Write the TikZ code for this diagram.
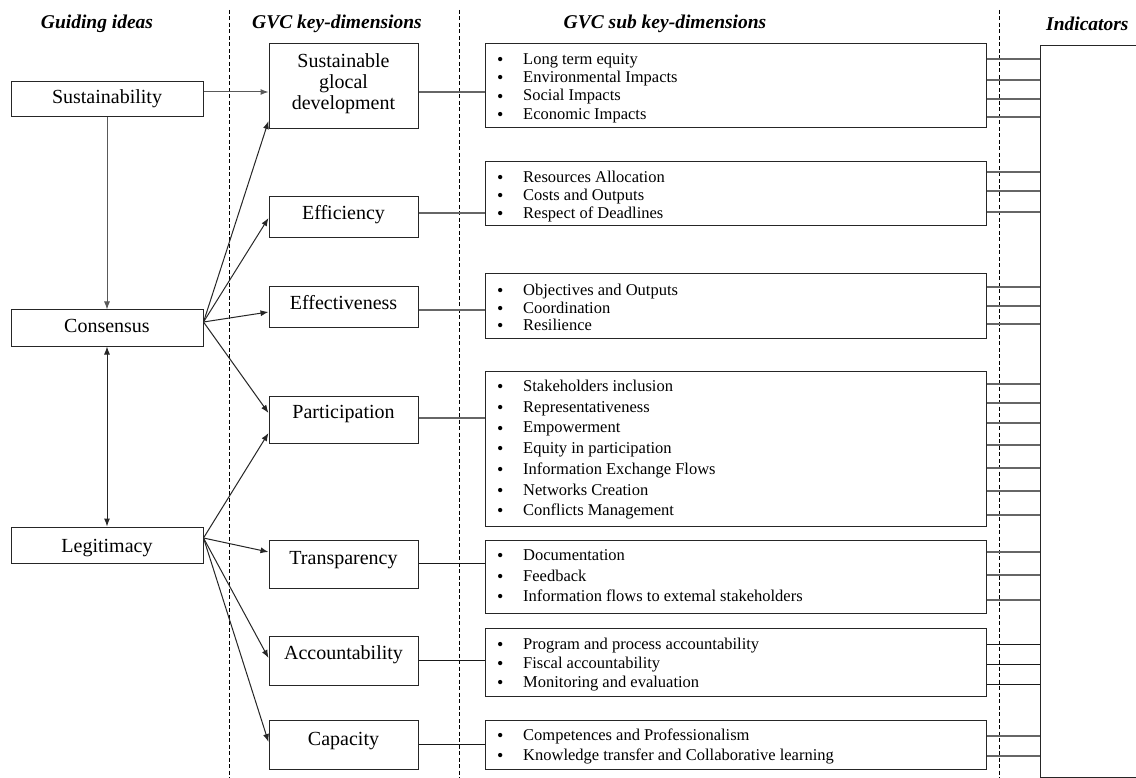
\documentclass[tikz,border=0pt]{standalone}
\usepackage{fontspec}
\setmainfont{Liberation Serif}
\usetikzlibrary{arrows.meta,calc}
\newcommand\gvcbul{\makebox[26pt][l]{\smash{\raisebox{-1.2pt}{\fontsize{18}{16}\selectfont•}}}}
\begin{document}
\begin{tikzpicture}[x=1pt,y=-1pt,
  box/.style={draw=black!85,line width=1pt,fill=white,inner sep=0pt},
  lab/.style={font=\fontsize{20}{21}\selectfont,inner sep=0pt,align=center,text height=14pt,text depth=4pt},
  hdr/.style={font=\fontsize{19.5}{21}\selectfont\bfseries\itshape,inner sep=0pt},
  item/.style={font=\fontsize{16.5}{16}\selectfont,inner sep=0pt,anchor=west,text height=11pt,text depth=3pt},
  conn/.style={draw=black!60,line width=1.3pt},
  connk/.style={draw=black!90,line width=1pt},
  arr/.style={draw=black!85,line width=1pt,-{Latex[length=8pt,width=6pt]}},
  sepline/.style={draw=black,line width=0.9pt,dash pattern=on 4pt off 2.5pt}]
\useasboundingbox[fill=white] (0,0) rectangle (1136,778);

% separators
\draw[sepline] (229,10) -- (229,778);
\draw[sepline] (459,10) -- (459,778);
\draw[sepline] (999,10) -- (999,778);

% headers
\node[hdr] (h1) at (97,24) {Guiding ideas};
\node[hdr] (h2) at (337,24) {GVC key-dimensions};
\node[hdr] (h3) at (665,24) {GVC sub key-dimensions};
\node[hdr,anchor=west] (h4) at (1046,24) {Indicators};

% guiding ideas
\node[box,minimum width=192,minimum height=35] (sus) at (107,99.5) {};
\node[lab] (sust) at (107,99) {Sustainability};
\node[box,minimum width=192,minimum height=36] (con) at (107,328) {};
\node[lab] (cont) at (107,328) {Consensus};
\node[box,minimum width=192,minimum height=36] (leg) at (107,545) {};
\node[lab] (legt) at (107,547) {Legitimacy};

% key dimensions
\node[box,minimum width=149,minimum height=85] (sgd) at (343.5,86.5) {};
\node[lab,text height=,text depth=] (sgdt) at (343.5,84) {Sustainable\\glocal\\development};
\node[box,minimum width=149,minimum height=41] (eff) at (343.5,217.5) {};
\node[lab] (efft) at (343.5,215) {Efficiency};
\node[box,minimum width=149,minimum height=40] (efv) at (343.5,307) {};
\node[lab] (efvt) at (343.5,304) {Effectiveness};
\node[box,minimum width=149,minimum height=47] (par) at (343.5,419.5) {};
\node[lab] (part) at (343.5,413) {Participation};
\node[box,minimum width=149,minimum height=48] (tra) at (343.5,564) {};
\node[lab] (trat) at (343.5,559) {Transparency};
\node[box,minimum width=149,minimum height=49] (acc) at (343.5,660.5) {};
\node[lab] (acct) at (343.5,654) {Accountability};
\node[box,minimum width=149,minimum height=49] (cap) at (343.5,744.5) {};
\node[lab] (capt) at (343.5,740) {Capacity};

% sub key-dimension boxes
\node[box,minimum width=501,minimum height=84] (b1) at (735.5,86) {};
\node[box,minimum width=501,minimum height=64] (b2) at (735.5,194) {};
\node[box,minimum width=501,minimum height=64] (b3) at (735.5,306) {};
\node[box,minimum width=501,minimum height=155] (b4) at (735.5,448.5) {};
\node[box,minimum width=501,minimum height=73] (b5) at (735.5,576.5) {};
\node[box,minimum width=501,minimum height=68] (b6) at (735.5,662) {};
\node[box,minimum width=501,minimum height=49] (b7) at (735.5,744.5) {};

\foreach \t [count=\i from 0] in {Long term equity,Environmental Impacts,Social Impacts,Economic Impacts}
  \node[item] (b1i\i) at (497,{60.5+18.2*\i}) {\gvcbul\t};
\foreach \t [count=\i from 0] in {Resources Allocation,Costs and Outputs,Respect of Deadlines}
  \node[item] (b2i\i) at (497,{178.5+18*\i}) {\gvcbul\t};
\foreach \t [count=\i from 0] in {Objectives and Outputs,Coordination,Resilience}
  \node[item] (b3i\i) at (497,{291.5+17.5*\i}) {\gvcbul\t};
\foreach \t [count=\i from 0] in {Stakeholders inclusion,Representativeness,Empowerment,Equity in participation,Information Exchange Flows,Networks Creation,Conflicts Management}
  \node[item] (b4i\i) at (497,{387.5+20.7*\i}) {\gvcbul\t};
\foreach \t [count=\i from 0] in {Documentation,Feedback,Information flows to extemal stakeholders}
  \node[item] (b5i\i) at (497,{556.5+20.5*\i}) {\gvcbul\t};
\foreach \t [count=\i from 0] in {Program and process accountability,Fiscal accountability,Monitoring and evaluation}
  \node[item] (b6i\i) at (497,{645.5+19*\i}) {\gvcbul\t};
\foreach \t [count=\i from 0] in {Competences and Professionalism,Knowledge transfer and Collaborative learning}
  \node[item] (b7i\i) at (497,{736.5+20*\i}) {\gvcbul\t};

% indicators box
\node[box,minimum width=130,minimum height=732,anchor=north west] (ind) at (1040,45) {};

% arrows among guiding ideas
\draw[arr,draw=black!65] (sus.south) -- (con.north);
\draw[draw=black!85,line width=1pt,{Latex[length=8pt,width=6pt]}-{Latex[length=8pt,width=6pt]}] (con.south) -- (leg.north);

% arrows to key dimensions
\draw[arr,draw=black!65] (sus.east |- 0,92) -- (sgd.west |- 0,92);
\coordinate (cE) at ($(con.east)+(0,-6)$);
\coordinate (lE) at ($(leg.east)+(0,-7)$);
\draw[arr] (cE) -- (sgd.west |- 0,121);
\draw[arr] (cE) -- (eff.west |- 0,218);
\draw[arr] (cE) -- (efv.west |- 0,312);
\draw[arr] (cE) -- (par.west |- 0,413);
\draw[arr] (lE) -- (par.west |- 0,433);
\draw[arr] (lE) -- (tra.west |- 0,552);
\draw[arr] (lE) -- (acc.west |- 0,658);
\draw[arr] (lE) -- (cap.west |- 0,742);

% key dimension -> sub boxes
\draw[conn] (sgd.east |- 0,92) -- (b1.west |- 0,92);
\draw[conn] (eff.east |- 0,213) -- (b2.west |- 0,213);
\draw[conn] (efv.east |- 0,310) -- (b3.west |- 0,310);
\draw[conn] (par.east |- 0,418) -- (b4.west |- 0,418);
\draw[connk] (tra.east |- 0,563) -- (b5.west |- 0,563);
\draw[connk] (acc.east |- 0,660) -- (b6.west |- 0,660);
\draw[connk] (cap.east |- 0,744) -- (b7.west |- 0,744);

% sub boxes -> indicators
\foreach \y in {59,80,99,117} \draw[conn] (b1.east |- 0,\y) -- (ind.west |- 0,\y);
\foreach \y in {172,191,212} \draw[conn] (b2.east |- 0,\y) -- (ind.west |- 0,\y);
\foreach \y in {287,306,324} \draw[conn] (b3.east |- 0,\y) -- (ind.west |- 0,\y);
\foreach \y in {384,403,423,445,468,491,515} \draw[conn] (b4.east |- 0,\y) -- (ind.west |- 0,\y);
\foreach \y in {552,575,600} \draw[conn] (b5.east |- 0,\y) -- (ind.west |- 0,\y);
\foreach \y in {644,664,684} \draw[connk] (b6.east |- 0,\y) -- (ind.west |- 0,\y);
\foreach \y in {736,756} \draw[conn] (b7.east |- 0,\y) -- (ind.west |- 0,\y);
\end{tikzpicture}
\end{document}
